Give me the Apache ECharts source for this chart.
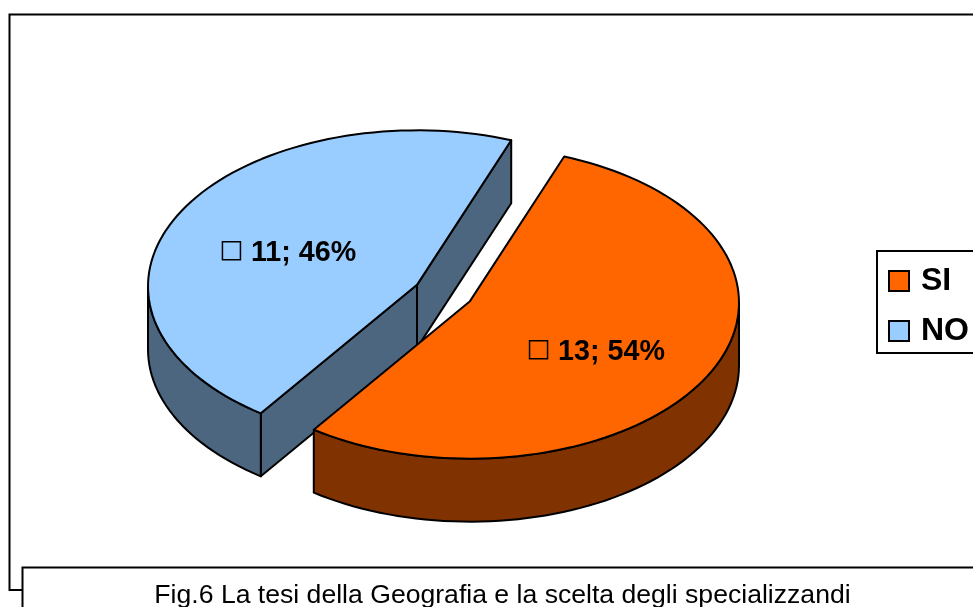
<!DOCTYPE html>
<html>
<head>
<meta charset="utf-8">
<style>html,body{margin:0;padding:0;background:#fff;overflow:hidden}#c{width:973px;height:607px}</style>
<script src="https://cdn.jsdelivr.net/npm/echarts@6/dist/echarts.min.js"></script>
</head>
<body>
<div id="c"></div>
<script>
// Data
const categories = ['SI', 'NO'];
const values = [13, 11];
const caption = 'Fig.6 La tesi della Geografia e la scelta degli specializzandi';

// Styles
const topColors = ['#FF6600', '#99CCFF'];
const sideColors = ['#803300', '#4D6680'];

// 3D pie layout
const pie = { cx: 443.5, cy: 293, rx: 269, ry: 156, arcDrop: 1.5, depth: 63, explode: 30, firstAngle: 20.5 };
const labelLayout = { radial: 0.535, nudgeY: [9.5, 5] };
const FONT = '"Liberation Sans", Arial, sans-serif';

const total = values.reduce((a, b) => a + b, 0);
const rad = d => d * Math.PI / 180;

function sliceRange(i) {
  let a = pie.firstAngle;
  for (let k = 0; k < i; k++) a += values[k] / total * 360;
  return [a, a + values[i] / total * 360];
}
function arc(ox, oy, from, to) {
  const pts = [], n = Math.max(2, Math.ceil(Math.abs(to - from) / 2));
  for (let k = 0; k <= n; k++) {
    const t = rad(from + (to - from) * k / n);
    pts.push([ox + pie.rx * Math.sin(t), oy + pie.arcDrop - pie.ry * Math.cos(t)]);
  }
  return pts;
}
function renderSlice(i, api) {
  const v = api.value(0);
  const [a, b] = sliceRange(i);
  const mid = rad((a + b) / 2);
  const ox = pie.cx + pie.explode * Math.sin(mid);
  const oy = pie.cy - pie.explode * (pie.ry / pie.rx) * Math.cos(mid);
  const edge = { stroke: '#000', lineWidth: 2, lineJoin: 'round' };
  const children = [];
  const poly = (points, fill) => children.push({ type: 'polygon', shape: { points }, style: Object.assign({ fill }, edge) });
  const side = sideColors[i], d = pie.depth;

  // Straight cut faces, drawn only if they face the viewer
  const face = t => {
    const p = arc(ox, oy, t, t)[0];
    poly([[ox, oy], p, [p[0], p[1] + d], [ox, oy + d]], side);
  };
  if (Math.cos(rad(b + 90)) < 0) face(b);
  if (Math.cos(rad(a - 90)) < 0) face(a);

  // Outer wall: the front half of the rim (90 to 270 degrees)
  const from = Math.max(a, 90), to = Math.min(b, 270);
  if (to > from) {
    const top = arc(ox, oy, from, to);
    const bottom = arc(ox, oy + d, from, to).reverse();
    poly(top.concat(bottom), side);
  }
  // Top face
  poly([[ox, oy]].concat(arc(ox, oy, a, b)), topColors[i]);

  // Data label with its empty key square
  const lx = ox + labelLayout.radial * pie.rx * Math.sin(mid);
  const ly = oy - labelLayout.radial * pie.ry * Math.cos(mid) + labelLayout.nudgeY[i];
  children.push({ type: 'rect', shape: { x: lx - 67.5, y: ly - 9, width: 18, height: 18 },
    style: { fill: 'none', stroke: '#000', lineWidth: 1.5 } });
  children.push({ type: 'text', style: {
    text: v + '; ' + Math.round(v / total * 100) + '%', x: lx - 39, y: ly + 2,
    fill: '#000', font: 'bold 28.7px ' + FONT, textAlign: 'left', textVerticalAlign: 'middle' } });
  return { type: 'group', children };
}

const chart = echarts.init(document.getElementById('c'), null, { renderer: 'canvas' });
chart.setOption({
  backgroundColor: '#fff',
  animation: false,
  graphic: { elements: [
    { type: 'polyline', z: 0, silent: true,
      shape: { points: [[1000, 14.5], [9.5, 14.5], [9.5, 590], [22, 590]] },
      style: { fill: 'none', stroke: '#000', lineWidth: 2 } },
    { type: 'rect', z: 0, silent: true,
      shape: { x: 22.5, y: 567.5, width: 1000, height: 100 },
      style: { fill: '#fff', stroke: '#000', lineWidth: 2 } },
    { type: 'text', z: 1, silent: true, x: 502.5, y: 609,
      style: { text: caption, fill: '#000', font: '26.6px ' + FONT, textAlign: 'center', textVerticalAlign: 'bottom' } }
  ] },
  legend: {
    orient: 'vertical', left: 877, top: 251, padding: [14, 40, 6, 11],
    data: categories, icon: 'rect', itemWidth: 20, itemHeight: 20, itemGap: 18, selectedMode: false,
    backgroundColor: '#fff', borderColor: '#000', borderWidth: 2, borderRadius: 0,
    itemStyle: { borderColor: '#000', borderWidth: 2 },
    textStyle: { color: '#000', fontFamily: FONT, fontWeight: 'bold', fontSize: 32, padding: [0, 0, 0, 7] }
  },
  series: [1, 0].map(i => ({
    type: 'custom', name: categories[i], coordinateSystem: 'none', silent: true,
    itemStyle: { color: topColors[i] },
    data: [[values[i]]],
    renderItem: (params, api) => renderSlice(i, api)
  }))
});
</script>
</body>
</html>
